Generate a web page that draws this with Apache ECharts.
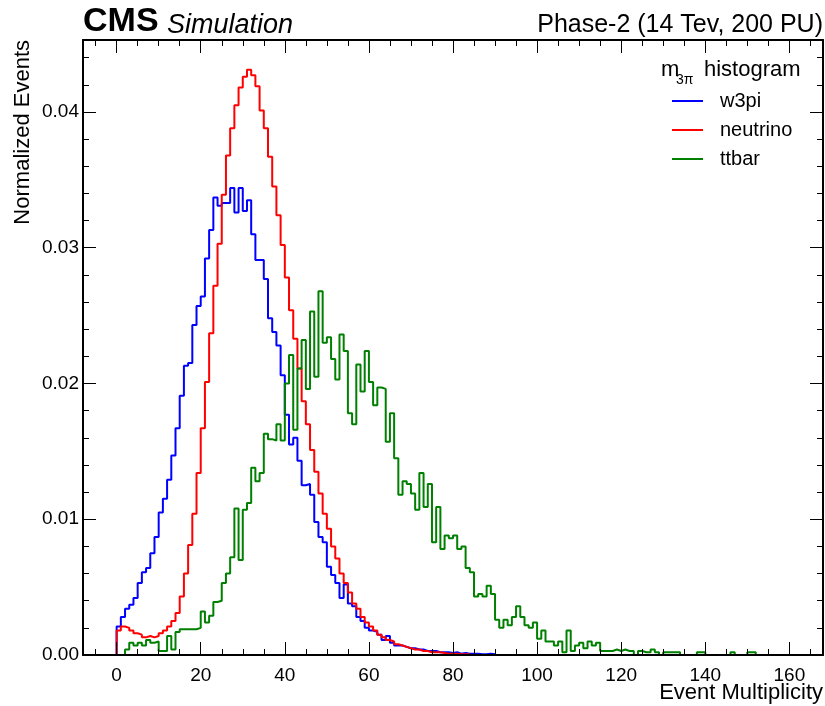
<!DOCTYPE html>
<html>
<head>
<meta charset="utf-8">
<title>Event multiplicity</title>
<script src="https://cdn.jsdelivr.net/npm/echarts@6.0.0/dist/echarts.min.js"></script>
<style>
  html, body { margin: 0; padding: 0; background: #fff; }
  #chart { width: 825px; height: 706px; }
</style>
</head>
<body>
<div id="chart"></div>
<script>
const FONT = '"Liberation Sans", Arial, Helvetica, sans-serif';

// bin contents, one bin per unit of multiplicity starting at 0
const w3pi = [
  0.0021, 0.0028, 0.0034, 0.0037, 0.0042, 0.0053, 0.0061, 0.0064, 0.0075, 0.0087,
  0.0105, 0.0115, 0.0129, 0.0147, 0.0167, 0.0191, 0.0213, 0.0215, 0.0243, 0.0257,
  0.0264, 0.0292, 0.0313, 0.0337, 0.0331, 0.0333, 0.0333, 0.0344, 0.0326, 0.0344,
  0.0327, 0.0335, 0.0310, 0.0291, 0.0291, 0.0277, 0.0248, 0.0238, 0.0228, 0.0206,
  0.0177, 0.0155, 0.0160, 0.0143, 0.0125, 0.0126, 0.0118, 0.0098, 0.0087, 0.0083,
  0.0065, 0.0059, 0.0053, 0.0042, 0.0052, 0.0038, 0.0036, 0.0028, 0.0025, 0.0020,
  0.0018, 0.0017, 0.0015, 0.0011, 0.0014, 0.0009, 0.0007, 0.0007, 0.0006, 0.0005,
  0.0005, 0.0004, 0.0004, 0.0003, 0.0003, 0.0003, 0.0002, 0.0002, 0.0002, 0.00015,
  0.0002, 0.0001, 0.00015, 0.0001, 0.0001, 0.0001, 0.00005, 0.00005, 0.0001, 0.00005
];

const neutrino = [
  0.0018, 0.0021, 0.0020, 0.0018, 0.0016, 0.0015, 0.0013, 0.0014, 0.0013, 0.0014,
  0.0016, 0.0018, 0.0021, 0.0025, 0.0031, 0.0043, 0.0060, 0.0081, 0.0104, 0.0134,
  0.0167, 0.0201, 0.0237, 0.0272, 0.0303, 0.0339, 0.0368, 0.0388, 0.0405, 0.0418,
  0.0426, 0.0431, 0.0427, 0.0419, 0.0401, 0.0388, 0.0367, 0.0345, 0.0324, 0.0302,
  0.0278, 0.0254, 0.0233, 0.0211, 0.0187, 0.0170, 0.0151, 0.0135, 0.0119, 0.0104,
  0.0093, 0.0080, 0.0071, 0.0060, 0.0053, 0.0046, 0.0038, 0.0034, 0.0028, 0.0024,
  0.0021, 0.0018, 0.0015, 0.0013, 0.0011, 0.0010, 0.0008, 0.0007, 0.0006, 0.0005,
  0.0004, 0.0004, 0.0003, 0.0003, 0.0002, 0.0002, 0.0002, 0.00015, 0.0001, 0.0001,
  0.0001, 0.00005, 0.00005, 0.00005
];

const ttbar = [
  0, 0, 0.0004, 0.0009, 0.0007, 0.0009, 0.0007, 0.0011, 0.0009, 0.0010,
  0.0003, 0.0003, 0.0014, 0.0004, 0.0017, 0.0019, 0.0019, 0.0019, 0.0019, 0.0020,
  0.0032, 0.0024, 0.0029, 0.0039, 0.0040, 0.0053, 0.0060, 0.0072, 0.0108, 0.0070,
  0.0107, 0.0112, 0.0138, 0.0128, 0.0134, 0.0163, 0.0159, 0.0158, 0.0170, 0.0158,
  0.0200, 0.0221, 0.0166, 0.0211, 0.0232, 0.0196, 0.0253, 0.0205, 0.0268, 0.0230,
  0.0234, 0.0218, 0.0203, 0.0236, 0.0224, 0.0178, 0.0170, 0.0214, 0.0194, 0.0224,
  0.0201, 0.0184, 0.0197, 0.0196, 0.0157, 0.0178, 0.0145, 0.0118, 0.0128, 0.0126,
  0.0119, 0.0107, 0.0134, 0.0109, 0.0126, 0.0083, 0.0109, 0.0078, 0.0088, 0.0086,
  0.0088, 0.0078, 0.0080, 0.0064, 0.0061, 0.0043, 0.0045, 0.0043, 0.0051, 0.0045,
  0.0026, 0.0020, 0.0026, 0.0022, 0.0028, 0.0036, 0.0028, 0.0022, 0.0020, 0.0024,
  0.0012, 0.0018, 0.0010, 0.0010, 0.0007, 0.0010, 0.0002, 0.0018, 0.0003, 0.0007,
  0.0009, 0.0005, 0.0010, 0.0007, 0.0009, 0.0003, 0.0003, 0.0003, 0.0004, 0.0003,
  0.0004, 0.0003, 0.0003, 0, 0.0003, 0.0002, 0.0002, 0.0004, 0.0002, 0,
  0.0002, 0.0002, 0.0002, 0.0002, 0, 0, 0, 0, 0.0002, 0.0002,
  0, 0, 0, 0, 0, 0, 0.0002, 0, 0, 0,
  0.0002, 0.0002, 0, 0, 0, 0, 0, 0, 0, 0
];

const seriesNames = ['w3pi', 'neutrino', 'ttbar'];
const seriesColors = ['#0000ff', '#ff0000', '#008000'];

const xMajorTicks = [0, 20, 40, 60, 80, 100, 120, 140, 160];
const xMinorTicks = [-5, 5, 10, 15, 25, 30, 35, 45, 50, 55, 65, 70, 75, 85, 90, 95,
  105, 110, 115, 125, 130, 135, 145, 150, 155, 165];
const yMajorTicks = [0, 0.01, 0.02, 0.03, 0.04];
const yTickLabels = ['0.00', '0.01', '0.02', '0.03', '0.04'];
const yMinorTicks = [0.002, 0.004, 0.006, 0.008, 0.012, 0.014, 0.016, 0.018,
  0.022, 0.024, 0.026, 0.028, 0.032, 0.034, 0.036, 0.038, 0.042, 0.044];

const X_MIN = -8, X_MAX = 168;
const Y_MIN = 0, Y_MAX = 0.0453;

// histogram -> step points (left edges), closing the last bin
function toSteps(counts) {
  const pts = [[0, 0]];
  counts.forEach((v, i) => pts.push([i, v]));
  pts.push([counts.length, counts[counts.length - 1]]);
  pts.push([counts.length, 0]);
  return pts;
}

const chart = echarts.init(document.getElementById('chart'), null, { renderer: 'canvas' });

const tickStyle = { color: '#000', width: 1 };
const frameStyle = { color: '#000', width: 2 };

function xAxisDef(grid, position, ticks, len, withLine, withLabels) {
  return {
    gridIndex: grid, type: 'value', position: position, min: X_MIN, max: X_MAX, z: 10,
    axisLine: { show: withLine, onZero: false, lineStyle: frameStyle },
    axisTick: { show: true, inside: true, length: len, customValues: ticks, lineStyle: tickStyle },
    axisLabel: withLabels
      ? { show: true, customValues: ticks, margin: 11, fontSize: 19, fontFamily: FONT, color: '#000' }
      : { show: false },
    splitLine: { show: false },
  };
}

function yAxisDef(grid, position, ticks, len, withLine, withLabels) {
  return {
    gridIndex: grid, type: 'value', position: position, min: Y_MIN, max: Y_MAX, z: 10,
    axisLine: { show: withLine, onZero: false, lineStyle: frameStyle },
    axisTick: { show: true, inside: true, length: len, customValues: ticks, lineStyle: tickStyle },
    axisLabel: withLabels
      ? {
          show: true, customValues: ticks, margin: 4, fontSize: 19, fontFamily: FONT, color: '#000',
          formatter: (v) => yTickLabels[yMajorTicks.indexOf(v)] ?? v.toFixed(2),
        }
      : { show: false },
    splitLine: { show: false },
  };
}

const gridBox = { left: 83, right: 2, top: 40, bottom: 51, containLabel: false };

const option = {
  animation: false,
  backgroundColor: '#fff',
  grid: [gridBox, gridBox],
  xAxis: [
    xAxisDef(0, 'bottom', xMajorTicks, 13, true, true),
    xAxisDef(0, 'top', xMajorTicks, 13, true, false),
    xAxisDef(1, 'bottom', xMinorTicks, 6, false, false),
    xAxisDef(1, 'top', xMinorTicks, 6, false, false),
  ],
  yAxis: [
    yAxisDef(0, 'left', yMajorTicks, 13, true, true),
    yAxisDef(0, 'right', yMajorTicks, 13, true, false),
    yAxisDef(1, 'left', yMinorTicks, 6, false, false),
    yAxisDef(1, 'right', yMinorTicks, 6, false, false),
  ],
  legend: {
    data: seriesNames,
    orient: 'vertical',
    left: 672,
    top: 91,
    padding: 0,
    icon: 'rect',
    itemWidth: 31,
    itemHeight: 2,
    itemGap: 9,
    textStyle: { fontSize: 20, fontFamily: FONT, color: '#000', lineHeight: 20, padding: [0, 0, 0, 12] },
  },
  graphic: [
    { type: 'text', x: 83, y: 22, style: { text: 'CMS', fontSize: 34, fontWeight: 'bold', fontFamily: FONT, fill: '#000', align: 'left', verticalAlign: 'middle' } },
    { type: 'text', x: 167, y: 25, style: { text: 'Simulation', fontSize: 27, fontStyle: 'italic', fontFamily: FONT, fill: '#000', align: 'left', verticalAlign: 'middle' } },
    { type: 'text', x: 823, y: 25, style: { text: 'Phase-2 (14 Tev, 200 PU)', fontSize: 25, fontFamily: FONT, fill: '#000', align: 'right', verticalAlign: 'middle' } },
    { type: 'text', x: 23, y: 40, rotation: Math.PI / 2, style: { text: 'Normalized Events', fontSize: 22, fontFamily: FONT, fill: '#000', align: 'right', verticalAlign: 'middle' } },
    { type: 'text', x: 823, y: 693, style: { text: 'Event Multiplicity', fontSize: 22, fontFamily: FONT, fill: '#000', align: 'right', verticalAlign: 'middle' } },
    // legend title: m_{3pi} histogram
    { type: 'text', x: 661, y: 70, style: { text: 'm', fontSize: 22, fontFamily: FONT, fill: '#000', align: 'left', verticalAlign: 'middle' } },
    { type: 'text', x: 676, y: 80, style: { text: '3\u03c0', fontSize: 14, fontFamily: FONT, fill: '#000', align: 'left', verticalAlign: 'middle' } },
    { type: 'text', x: 704, y: 70, style: { text: 'histogram', fontSize: 22, fontFamily: FONT, fill: '#000', align: 'left', verticalAlign: 'middle' } },
  ],
  series: [w3pi, neutrino, ttbar].map((counts, i) => ({
    name: seriesNames[i],
    type: 'line',
    step: 'end',
    xAxisIndex: 0,
    yAxisIndex: 0,
    symbol: 'none',
    data: toSteps(counts),
    lineStyle: { color: seriesColors[i], width: 2 },
    itemStyle: { color: seriesColors[i] },
    z: 2,
  })),
};

chart.setOption(option);
</script>
</body>
</html>
